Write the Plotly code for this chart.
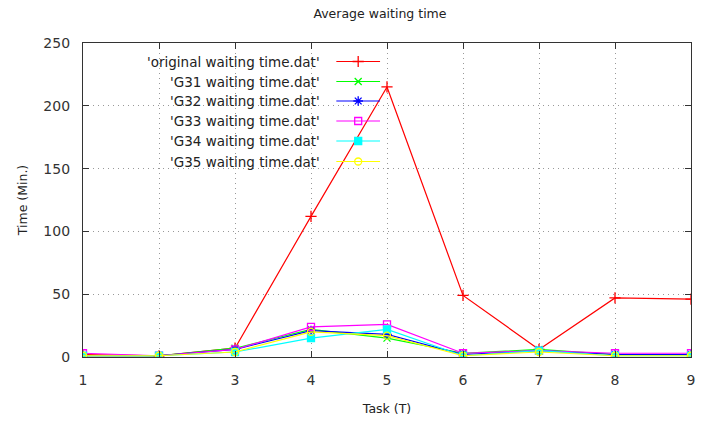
import plotly.graph_objects as go

tasks = [1, 2, 3, 4, 5, 6, 7, 8, 9]
original = [2, 1, 7, 112, 215, 49, 6, 47, 46]
g31 = [1, 1, 7, 22, 15, 3, 6, 2, 2]
g32 = [1, 1, 6, 21, 18, 2, 5, 2, 2]
g33 = [3, 1, 6, 24, 26, 3, 5, 3, 3]
g34 = [1, 1, 4, 15, 22, 1, 5, 1, 1]
g35 = [1, 1, 4, 20, 17, 1, 4, 1, 1]

names = ["'original waiting time.dat'", "'G31 waiting time.dat'", "'G32 waiting time.dat'",
         "'G33 waiting time.dat'", "'G34 waiting time.dat'", "'G35 waiting time.dat'"]
series = [original, g31, g32, g33, g34, g35]
colors = ["#ff0000", "#00ff00", "#0000ff", "#ff00ff", "#00ffff", "#ffff00"]
symbols = ["cross-thin-open", "x-thin-open", "asterisk-open", "square-open", "square", "circle-open"]
sizes = [8, 7, 8, 7, 7, 7]

FONT = "DejaVu Sans"
fig = go.Figure()
for s, c, sym, sz, n in zip(series, colors, symbols, sizes, names):
    fig.add_trace(go.Scatter(x=tasks, y=s, mode="lines+markers", name=n,
                             line=dict(color=c, width=1.2),
                             marker=dict(symbol=sym, size=sz, color=c, line=dict(color=c, width=1.3)),
                             showlegend=False))

# custom gnuplot-style legend on a hidden overlay axis (pixel-like units)
row_y = [61.5, 81.5, 101, 121, 141, 161.5]
for ry, c, sym, sz, n in zip(row_y, colors, symbols, sizes, names):
    fig.add_trace(go.Scatter(x=[338, 382], y=[ry, ry], xaxis="x2", yaxis="y2", mode="lines",
                             line=dict(color=c, width=1.2), showlegend=False, hoverinfo="skip"))
    fig.add_trace(go.Scatter(x=[360], y=[ry], xaxis="x2", yaxis="y2", mode="markers",
                             marker=dict(symbol=sym, size=sz, color=c, line=dict(color=c, width=1.3)),
                             showlegend=False, hoverinfo="skip"))
    fig.add_annotation(x=324, y=ry, xref="x2", yref="y2", text=n, showarrow=False,
                       xanchor="right", yanchor="middle", font=dict(family=FONT, size=13.5, color="#222"))

axis_common = dict(showline=True, linecolor="#333", linewidth=1.2, mirror="ticks",
                   ticks="inside", ticklen=6, tickcolor="#333",
                   showgrid=True, gridcolor="#999", griddash="1px,4px", gridwidth=1,
                   zeroline=False, tickfont=dict(family=FONT, size=14, color="#333"))

fig.update_layout(
    width=701, height=425,
    margin=dict(l=83, r=6, t=43, b=68),
    paper_bgcolor="white", plot_bgcolor="white",
    title=dict(text="Average waiting time", x=0.542, xanchor="center", y=0.967, yanchor="middle",
               font=dict(family=FONT, size=12.5, color="#222")),
    xaxis=dict(range=[1, 9], tickvals=tasks, ticklabelstandoff=10,
               title=dict(text="Task (T)", font=dict(family=FONT, size=12.5, color="#222"), standoff=17),
               **axis_common),
    yaxis=dict(range=[0, 250], tickvals=[0, 50, 100, 150, 200, 250], ticklabelstandoff=9,
               title=dict(text="Time (Min.)", font=dict(family=FONT, size=12.5, color="#222"), standoff=12),
               **axis_common),
    xaxis2=dict(overlaying="x", range=[83, 695], visible=False),
    yaxis2=dict(overlaying="y", range=[357, 43], visible=False),
)
fig.write_html("out.html")
